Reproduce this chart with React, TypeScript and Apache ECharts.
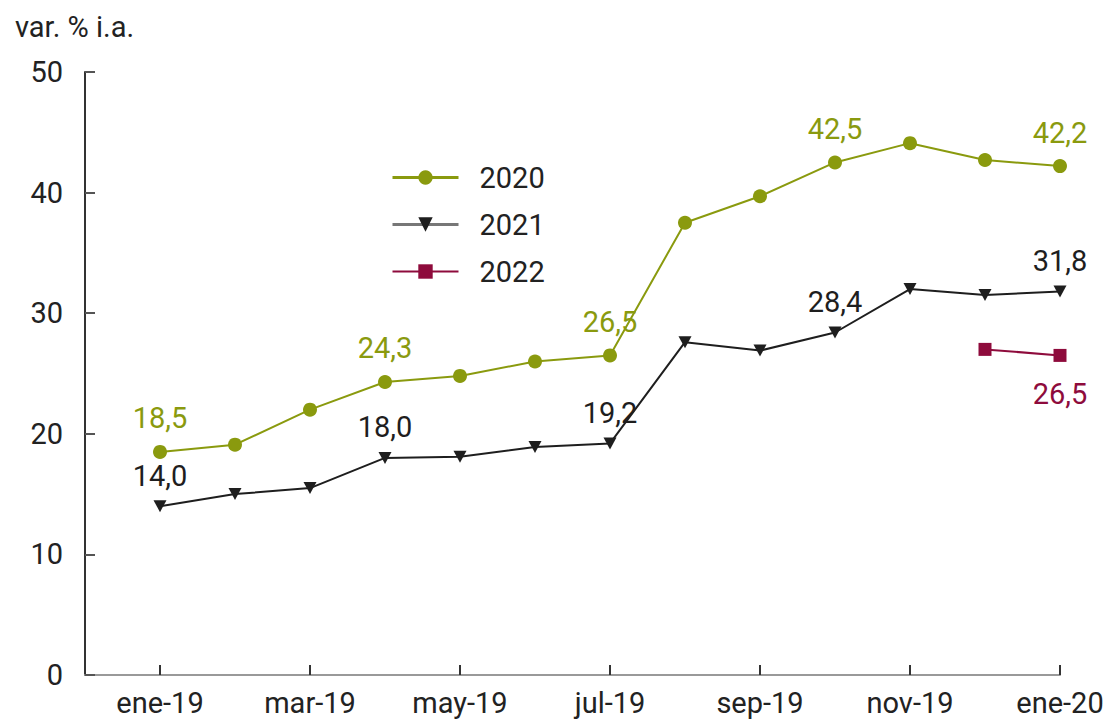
import React, { useEffect, useRef } from "react";
import * as echarts from "echarts";

const categories = ["", "ene-19", "feb-19", "mar-19", "abr-19", "may-19", "jun-19", "jul-19", "ago-19", "sep-19", "oct-19", "nov-19", "dic-19", "ene-20"];
const s2020 = [null, 18.5, 19.1, 22.0, 24.3, 24.8, 26.0, 26.5, 37.5, 39.7, 42.5, 44.1, 42.7, 42.2];
const s2021 = [null, 14.0, 15.0, 15.5, 18.0, 18.1, 18.9, 19.2, 27.6, 26.9, 28.4, 32.0, 31.5, 31.8];
const s2022 = [null, null, null, null, null, null, null, null, null, null, null, null, 27.0, 26.5];
const labeled2020 = [1, 4, 7, 10, 13];
const labeled2021 = [1, 4, 7, 10, 13];
const labeled2022 = [13];
const yTicks = [0, 10, 20, 30, 40, 50];

const OLIVE = "#8a9a0e";
const DARK = "#1e1e1e";
const MAROON = "#8e0b3c";
const FONT = "Roboto, sans-serif";
const FS = 29;

const fmt = (v: number) => v.toFixed(1).replace(".", ",");

function build(values: (number | null)[], labeled: number[], color: string, position: string, distance: number) {
  return values.map((v, i) => ({
    value: v,
    label: {
      show: labeled.includes(i),
      position,
      distance,
      color,
      fontFamily: FONT,
      fontSize: FS,
      formatter: (p: any) => fmt(p.value),
    },
  }));
}

export default function App() {
  const ref = useRef<HTMLDivElement>(null);
  useEffect(() => {
    if (!ref.current) return;
    const chart = echarts.init(ref.current, undefined, { renderer: "svg" });
    chart.setOption({
      animation: false,
      backgroundColor: "#ffffff",
      textStyle: { fontFamily: FONT },
      grid: { left: 85, right: 47, top: 72, bottom: 50 },
      graphic: [
        {
          type: "text",
          left: 15,
          top: 12,
          style: { text: "var. % i.a.", fontFamily: FONT, fontSize: FS, fill: "#222" },
        },
      ],
      legend: {
        orient: "vertical",
        left: 386,
        top: 157,
        itemWidth: 66,
        itemHeight: 18,
        itemGap: 16,
        textStyle: { fontFamily: FONT, fontSize: FS, color: "#222", lineHeight: 31, padding: [0, 0, 0, 16] },
        data: [
          { name: "2020", lineStyle: { width: 3 } },
          { name: "2021", lineStyle: { color: "#777", width: 3 } },
          { name: "2022", lineStyle: { width: 2 } },
        ],
      },
      xAxis: {
        type: "category",
        data: categories,
        boundaryGap: false,
        axisLine: { lineStyle: { color: "#999", width: 2 } },
        axisTick: {
          inside: true,
          length: 10,
          interval: (i: number) => i % 2 === 1,
          lineStyle: { color: "#333", width: 2 },
        },
        axisLabel: {
          interval: (i: number) => i % 2 === 1,
          fontFamily: FONT,
          fontSize: FS,
          color: "#222",
          margin: 13,
        },
        splitLine: { show: false },
      },
      yAxis: {
        type: "value",
        min: yTicks[0],
        max: yTicks[yTicks.length - 1],
        interval: 10,
        axisLine: { show: true, lineStyle: { color: "#333", width: 2 } },
        axisTick: { show: true, inside: true, length: 10, lineStyle: { color: "#555", width: 2 } },
        axisLabel: { fontFamily: FONT, fontSize: FS, color: "#222", margin: 22 },
        splitLine: { show: false },
      },
      series: [
        {
          name: "2020",
          type: "line",
          data: build(s2020, labeled2020, OLIVE, "top", 12),
          symbol: "circle",
          symbolSize: 14,
          color: OLIVE,
          lineStyle: { color: OLIVE, width: 2 },
          itemStyle: { color: OLIVE },
        },
        {
          name: "2021",
          type: "line",
          data: build(s2021, labeled2021, DARK, "top", 10),
          symbol: "path://M0,0L10,0L5,10Z",
          symbolSize: [13, 12],
          color: DARK,
          lineStyle: { color: DARK, width: 2 },
          itemStyle: { color: DARK },
        },
        {
          name: "2022",
          type: "line",
          data: build(s2022, labeled2022, MAROON, "bottom", 18),
          symbol: "rect",
          symbolSize: 13,
          color: MAROON,
          lineStyle: { color: MAROON, width: 2 },
          itemStyle: { color: MAROON },
        },
      ],
    });
    return () => chart.dispose();
  }, []);
  return <div ref={ref} style={{ position: "fixed", left: 0, top: 0, width: 1107, height: 725 }} />;
}
